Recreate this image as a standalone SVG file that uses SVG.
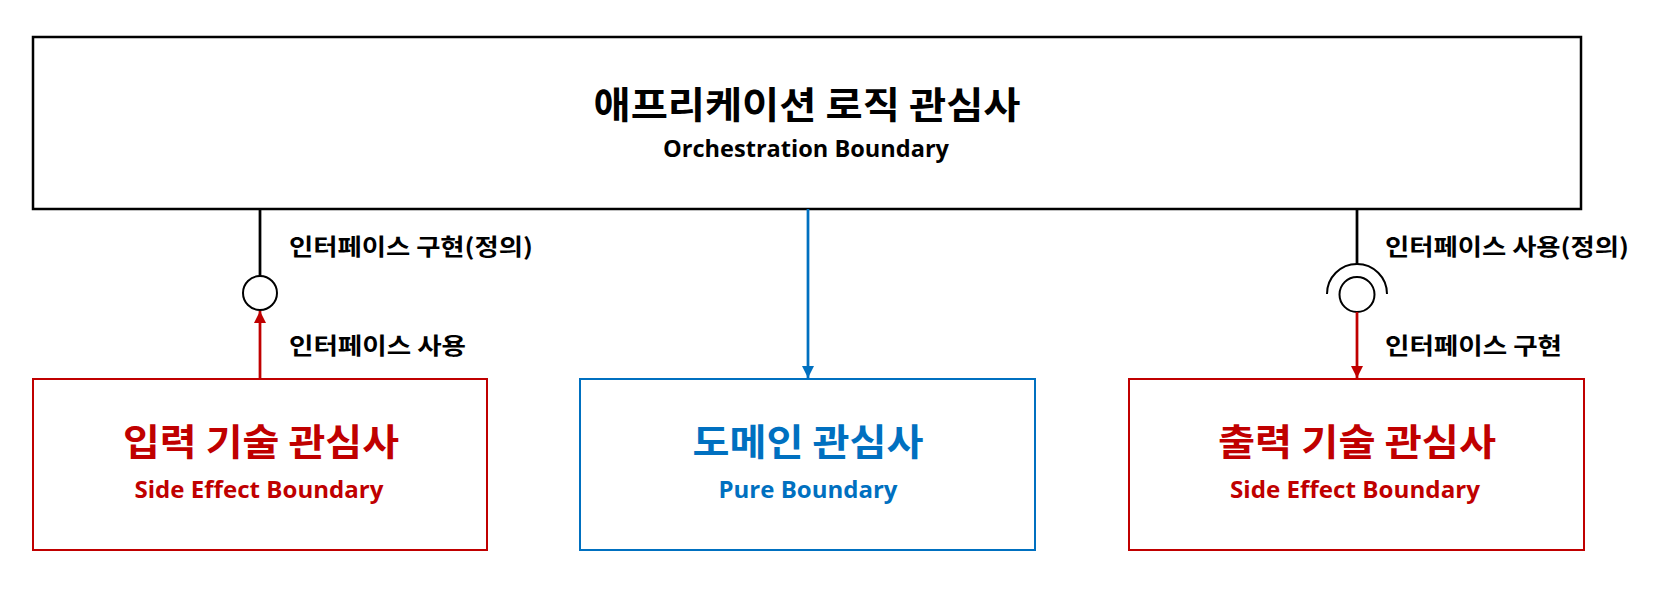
<svg xmlns="http://www.w3.org/2000/svg" width="1670" height="595" viewBox="0 0 1670 595">
  <style>
    .kr { font-family: "Noto Sans CJK KR", "Noto Sans", sans-serif; font-weight: bold; }
    .lat { font-family: "Open Sans", "Noto Sans", sans-serif; font-weight: bold; }
    .title { font-size: 37px; text-anchor: middle; }
    .sub { font-size: 23px; text-anchor: middle; }
    .lbl { font-size: 23px; fill: #000; }
    .red { fill: #C00000; }
    .blue { fill: #0070C0; }
    .black { fill: #000; }
    .box { fill: #fff; stroke-width: 2; }
  </style>
  <defs>
    <marker id="arrRed" markerUnits="userSpaceOnUse" markerWidth="12" markerHeight="12" refX="12" refY="6" orient="auto">
      <path d="M0,0 L12,6 L0,12 z" fill="#C00000"/>
    </marker>
    <marker id="arrBlue" markerUnits="userSpaceOnUse" markerWidth="12" markerHeight="12" refX="12" refY="6" orient="auto">
      <path d="M0,0 L12,6 L0,12 z" fill="#0070C0"/>
    </marker>
  </defs>
  <rect width="1670" height="595" fill="#fff"/>

  <g id="app">
    <rect x="33" y="37" width="1548" height="172" fill="#fff" stroke="#000" stroke-width="2.5"/>
    <text class="kr title black" x="807" y="119" textLength="427" lengthAdjust="spacingAndGlyphs">애프리케이션 로직 관심사</text>
    <text class="lat sub black" x="806" y="157" textLength="286" lengthAdjust="spacingAndGlyphs">Orchestration Boundary</text>
  </g>

  <g id="input">
    <rect class="box" x="33" y="379" width="454" height="171" stroke="#C00000"/>
    <text class="kr title red" x="261" y="456" textLength="276" lengthAdjust="spacingAndGlyphs">입력 기술 관심사</text>
    <text class="lat sub red" x="259" y="498" textLength="249" lengthAdjust="spacingAndGlyphs">Side Effect Boundary</text>
  </g>

  <g id="domain">
    <rect class="box" x="580" y="379" width="455" height="171" stroke="#0070C0"/>
    <text class="kr title blue" x="808" y="456" textLength="231" lengthAdjust="spacingAndGlyphs">도메인 관심사</text>
    <text class="lat sub blue" x="808" y="498" textLength="179" lengthAdjust="spacingAndGlyphs">Pure Boundary</text>
  </g>

  <g id="output">
    <rect class="box" x="1129" y="379" width="455" height="171" stroke="#C00000"/>
    <text class="kr title red" x="1357" y="456" textLength="278" lengthAdjust="spacingAndGlyphs">출력 기술 관심사</text>
    <text class="lat sub red" x="1355" y="498" textLength="250" lengthAdjust="spacingAndGlyphs">Side Effect Boundary</text>
  </g>

  <g id="connectors">
    <!-- left: provided interface (lollipop) -->
    <line x1="260" y1="209" x2="260" y2="276" stroke="#000" stroke-width="2.75"/>
    <circle cx="260" cy="293" r="17" fill="#fff" stroke="#000" stroke-width="2"/>
    <line x1="260" y1="378" x2="260" y2="311" stroke="#C00000" stroke-width="2.75" marker-end="url(#arrRed)"/>
    <text class="kr lbl" x="289" y="255" textLength="244" lengthAdjust="spacingAndGlyphs">인터페이스 구현(정의)</text>
    <text class="kr lbl" x="289" y="354" textLength="177" lengthAdjust="spacingAndGlyphs">인터페이스 사용</text>

    <!-- middle -->
    <line x1="808" y1="209" x2="808" y2="378" stroke="#0070C0" stroke-width="2.75" marker-end="url(#arrBlue)"/>

    <!-- right: required interface (socket + ball) -->
    <line x1="1357" y1="209" x2="1357" y2="265" stroke="#000" stroke-width="2.75"/>
    <path d="M1327,294 A30,30 0 0 1 1387,294" fill="none" stroke="#000" stroke-width="2"/>
    <circle cx="1357" cy="294.5" r="17.5" fill="#fff" stroke="#000" stroke-width="2"/>
    <line x1="1357" y1="312" x2="1357" y2="378" stroke="#C00000" stroke-width="2.75" marker-end="url(#arrRed)"/>
    <text class="kr lbl" x="1385" y="255" textLength="244" lengthAdjust="spacingAndGlyphs">인터페이스 사용(정의)</text>
    <text class="kr lbl" x="1385" y="354" textLength="177" lengthAdjust="spacingAndGlyphs">인터페이스 구현</text>
  </g>
</svg>
